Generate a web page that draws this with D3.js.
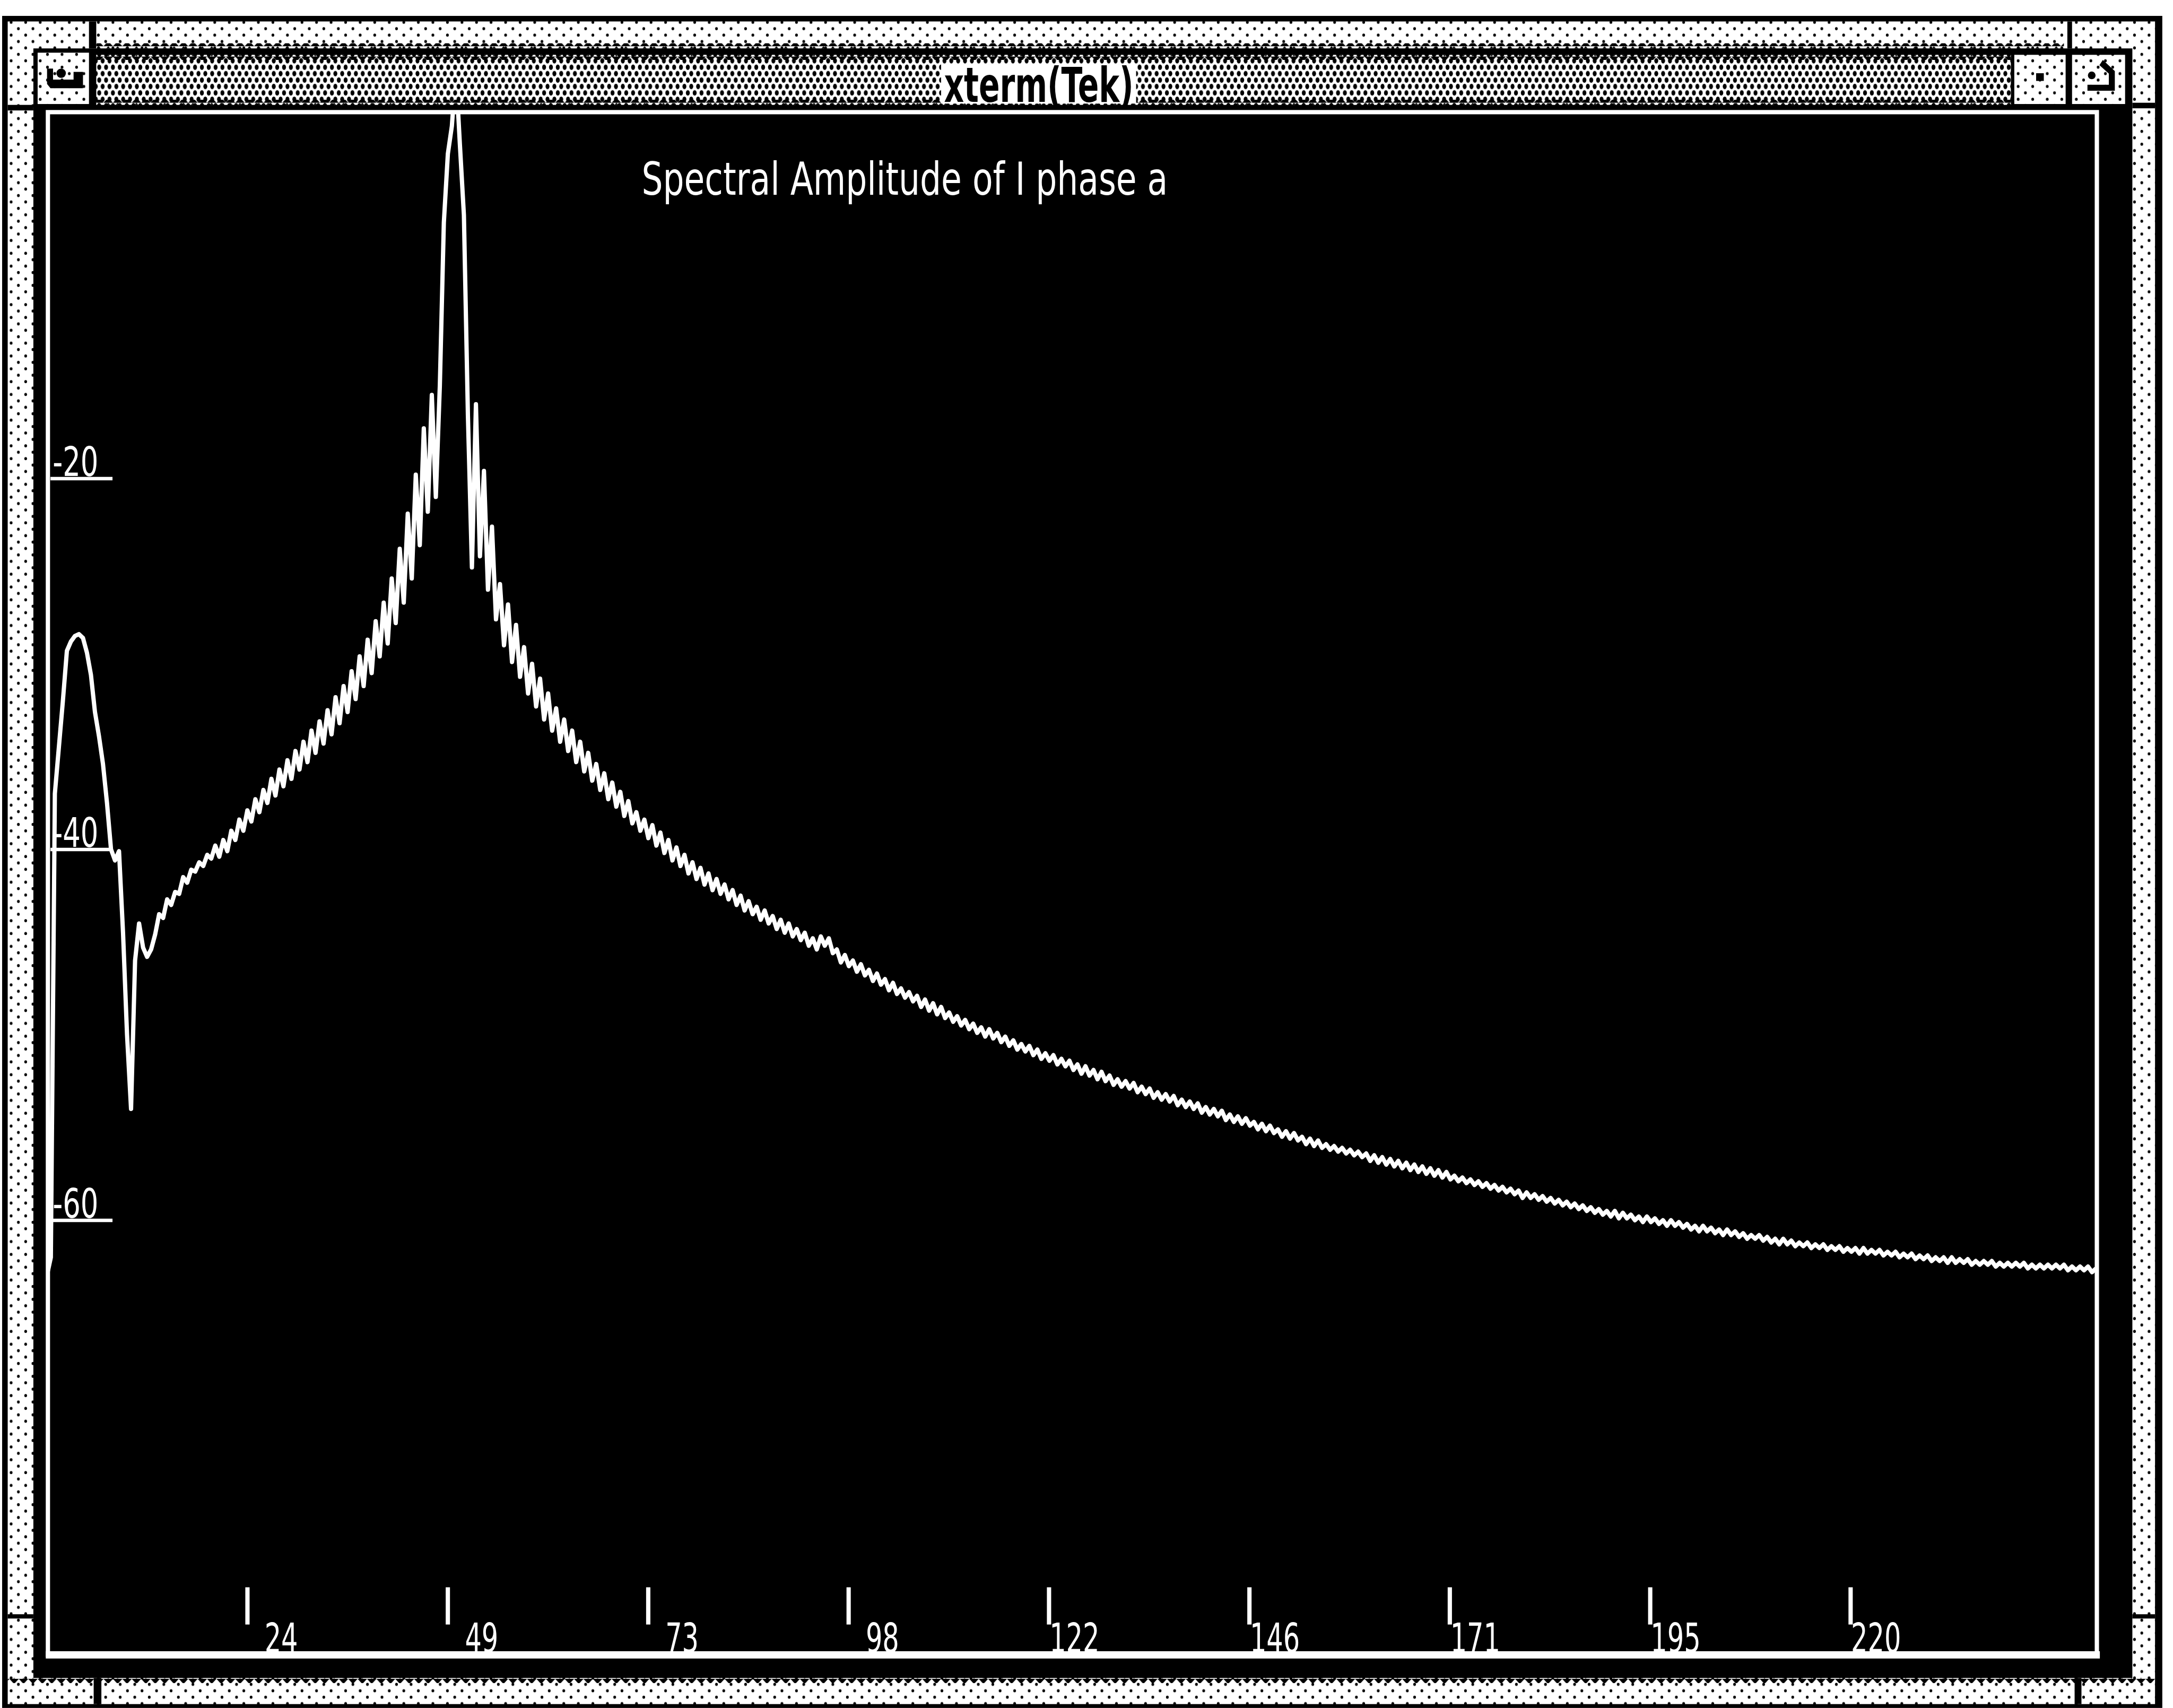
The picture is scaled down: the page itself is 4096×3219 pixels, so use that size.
<!DOCTYPE html>
<html>
<head>
<meta charset="utf-8">
<script src="https://cdn.jsdelivr.net/npm/d3@7"></script>
<style>
  html, body { margin: 0; padding: 0; background: #fff; overflow: hidden; }
  svg { display: block; }
</style>
</head>
<body>
<svg id="chart" width="4096" height="3219" viewBox="0 0 5080 3992"></svg>
<script>
// ---------------- data ----------------
const windowTitle = "xterm(Tek)";
const chartTitle = "Spectral Amplitude of I phase a";

const xTickValues = [24.4, 48.8, 73.2, 97.6, 122, 146.4, 170.8, 195.2, 219.6];
const xTickLabels = ["24", "49", "73", "98", "122", "146", "171", "195", "220"];
const yTickValues = [-20, -40, -60];
const yTickLabels = ["-20", "-40", "-60"];

// FFT bin spacing (Hz); amplitudes below are in dB, one value per bin
const binWidthHz = 250 / 512;

// bins 0-41: DC region, low-frequency lobe and the notch near 10 Hz
const lowBandAmp = [
  -63.0, -62.0, -37.0, -34.5, -32.0, -29.3, -28.8, -28.5, -28.4, -28.6,
  -29.4, -30.6, -32.6, -33.9, -35.4, -37.5, -40.0, -40.6, -40.1, -44.5,
  -50.0, -54.0, -46.0, -44.0, -45.3, -45.8, -45.4, -44.6, -43.5, -43.7,
  -42.7, -43.0, -42.3, -42.4, -41.5, -41.8, -41.1, -41.2, -40.7, -40.9,
  -40.3, -40.5
];

// bins 42-100: rising skirt up to the fundamental
const lowerSkirtAmp = [
  -39.8, -40.4, -39.5, -40.1, -39.0, -39.5, -38.4, -39.0, -37.9, -38.5,
  -37.3, -38.0, -36.8, -37.5, -36.2, -37.1, -35.7, -36.6, -35.2, -36.2,
  -34.7, -35.7, -34.2, -35.3, -33.6, -34.8, -33.1, -34.3, -32.5, -33.8,
  -31.8, -33.2, -31.2, -32.6, -30.4, -31.9, -29.6, -31.2, -28.7, -30.5,
  -27.7, -29.6, -26.7, -28.9, -25.4, -27.8, -23.8, -26.7, -21.9, -25.4,
  -19.8, -23.6, -17.3, -21.8, -15.5, -21.0, -15.0, -6.2, -2.5
];

// bins 101-200: fundamental peak and falling skirt
const upperSkirtAmp = [
  -1.0, 2.0, -2.0, -5.8, -16.6, -24.8, -16.0, -24.2, -19.6, -26.0,
  -22.6, -27.6, -25.7, -29.0, -26.8, -29.9, -27.9, -30.7, -29.1, -31.6,
  -30.0, -32.3, -30.8, -33.0, -31.6, -33.6, -32.4, -34.2, -33.0, -34.7,
  -33.6, -35.3, -34.2, -35.8, -34.8, -36.3, -35.4, -36.8, -35.9, -37.3,
  -36.4, -37.7, -36.9, -38.2, -37.4, -38.6, -38.0, -39.0, -38.4, -39.4,
  -38.7, -39.8, -39.1, -40.2, -39.5, -40.6, -39.9, -40.9, -40.3, -41.3,
  -40.7, -41.6, -41.0, -41.9, -41.3, -42.2, -41.6, -42.4, -41.9, -42.7,
  -42.2, -43.0, -42.5, -43.3, -42.8, -43.5, -43.1, -43.8, -43.3, -44.0,
  -43.6, -44.3, -43.8, -44.5, -44.0, -44.7, -44.3, -44.9, -44.5, -45.2,
  -44.8, -45.4, -44.7, -45.2, -44.8, -45.6, -45.4, -46.1, -45.7, -46.3
];

// bins 201-511: high-frequency tail
const tailAmp = [
  -46.0, -46.6, -46.2, -46.8, -46.5, -47.1, -46.7, -47.3, -47.0, -47.6,
  -47.2, -47.8, -47.5, -48.0, -47.7, -48.2, -47.9, -48.5, -48.1, -48.7,
  -48.3, -48.9, -48.5, -49.1, -48.8, -49.3, -49.0, -49.5, -49.2, -49.7,
  -49.4, -49.9, -49.6, -50.1, -49.7, -50.2, -49.9, -50.4, -50.1, -50.6,
  -50.3, -50.8, -50.5, -50.9, -50.6, -51.1, -50.8, -51.3, -51.0, -51.4,
  -51.1, -51.6, -51.3, -51.7, -51.4, -51.9, -51.6, -52.1, -51.7, -52.2,
  -51.9, -52.4, -52.0, -52.5, -52.2, -52.7, -52.4, -52.8, -52.5, -52.9,
  -52.6, -53.1, -52.8, -53.2, -52.9, -53.4, -53.1, -53.5, -53.2, -53.6,
  -53.3, -53.8, -53.5, -53.9, -53.6, -54.0, -53.7, -54.2, -53.9, -54.3,
  -54.0, -54.4, -54.1, -54.6, -54.3, -54.7, -54.4, -54.8, -54.5, -54.9,
  -54.7, -55.1, -54.8, -55.2, -54.9, -55.3, -55.1, -55.5, -55.2, -55.6,
  -55.3, -55.7, -55.5, -55.9, -55.6, -56.0, -55.7, -56.1, -55.9, -56.2,
  -56.0, -56.3, -56.1, -56.4, -56.2, -56.5, -56.3, -56.6, -56.4, -56.8,
  -56.5, -56.9, -56.6, -57.0, -56.7, -57.1, -56.8, -57.2, -56.9, -57.3,
  -57.0, -57.4, -57.1, -57.5, -57.2, -57.6, -57.3, -57.7, -57.4, -57.8,
  -57.6, -57.9, -57.7, -58.0, -57.8, -58.1, -57.9, -58.2, -58.0, -58.3,
  -58.1, -58.4, -58.2, -58.5, -58.3, -58.6, -58.4, -58.8, -58.5, -58.8,
  -58.6, -58.9, -58.7, -59.0, -58.8, -59.1, -58.9, -59.2, -59.0, -59.3,
  -59.1, -59.4, -59.2, -59.5, -59.3, -59.6, -59.4, -59.7, -59.5, -59.8,
  -59.5, -59.9, -59.6, -59.9, -59.7, -60.0, -59.8, -60.1, -59.8, -60.1,
  -59.9, -60.2, -60.0, -60.3, -60.0, -60.3, -60.1, -60.4, -60.2, -60.5,
  -60.3, -60.6, -60.3, -60.6, -60.4, -60.7, -60.5, -60.8, -60.5, -60.8,
  -60.6, -60.9, -60.7, -61.0, -60.8, -61.0, -60.8, -61.1, -60.9, -61.2,
  -61.0, -61.3, -61.0, -61.3, -61.1, -61.4, -61.2, -61.4, -61.2, -61.5,
  -61.3, -61.5, -61.3, -61.6, -61.4, -61.6, -61.4, -61.7, -61.5, -61.7,
  -61.5, -61.8, -61.5, -61.8, -61.6, -61.8, -61.6, -61.9, -61.7, -61.9,
  -61.7, -62.0, -61.8, -62.0, -61.8, -62.1, -61.9, -62.1, -61.9, -62.2,
  -62.0, -62.2, -62.0, -62.3, -62.0, -62.3, -62.1, -62.3, -62.1, -62.4,
  -62.2, -62.4, -62.2, -62.4, -62.2, -62.5, -62.3, -62.5, -62.3, -62.5,
  -62.3, -62.5, -62.3, -62.6, -62.4, -62.6, -62.4, -62.6, -62.4, -62.6,
  -62.4, -62.6, -62.4, -62.7, -62.5, -62.7, -62.5, -62.7, -62.5, -62.8,
  -62.6
];

// ---------------- layout (reference pixel space, scaled by the viewBox) ----------------
const svg = d3.select("#chart");
const VW = 5080, VH = 3992;
const FONT = "'Liberation Sans Narrow', 'DejaVu Sans Condensed', 'Liberation Sans', sans-serif";

const x = d3.scaleLinear().domain([0, 250]).range([109.5, 4909.5]);
const y = d3.scaleLinear().domain([0, -80]).range([251, 251 + 80 * 43.35]);

const plotBox = { left: 112, top: 262, right: 4902, bottom: 3868 };

// ---------------- window decoration ----------------
const defs = svg.append("defs");

function dotPattern(id, w, h, dots) {
  const p = defs.append("pattern").attr("id", id)
    .attr("patternUnits", "userSpaceOnUse").attr("width", w).attr("height", h);
  p.append("rect").attr("width", w).attr("height", h).attr("fill", "#fff");
  dots.forEach(d => p.append("ellipse").attr("cx", d[0]).attr("cy", d[1])
    .attr("rx", d[2]).attr("ry", d[3]).attr("fill", "#000"));
}
// dense halftone for the title bar, sparse one for the resize frame
dotPattern("titleDots", 16, 30, [[8, 7, 4.6, 6.3], [0, 22, 4.6, 6.3], [16, 22, 4.6, 6.3]]);
dotPattern("frameDots", 34, 30, [[9, 7, 3.2, 3.6], [26, 22, 3.2, 3.6]]);

function teethPattern(id, down) {
  const p = defs.append("pattern").attr("id", id)
    .attr("patternUnits", "userSpaceOnUse").attr("width", 22).attr("height", 12);
  p.append("path").attr("d", down ? "M0,0 L22,0 L11,12 Z" : "M0,12 L22,12 L11,0 Z").attr("fill", "#000");
}
teethPattern("teethDown", true);
teethPattern("teethUp", false);

svg.append("rect").attr("width", VW).attr("height", VH).attr("fill", "#fff");

const deco = svg.append("g").attr("class", "decoration");
// outer border and frame strips
deco.append("rect").attr("x", 5).attr("y", 37).attr("width", 5050).attr("height", 3955).attr("fill", "#000");
deco.append("rect").attr("x", 18).attr("y", 50).attr("width", 5020).attr("height", 3933).attr("fill", "url(#frameDots)");
deco.append("rect").attr("x", 78).attr("y", 113).attr("width", 4907).attr("height", 3809).attr("fill", "#000");

// corner separators in the frame
[[208, 50, 17, 63], [4833, 50, 11, 63], [18, 245, 60, 13], [18, 3773, 60, 10],
 [4985, 240, 53, 13], [4985, 3773, 53, 10], [219, 3922, 18, 61], [4850, 3922, 16, 61]]
  .forEach(r => deco.append("rect").attr("x", r[0]).attr("y", r[1]).attr("width", r[2]).attr("height", r[3]).attr("fill", "#000"));

// halftone teeth along the strip edges
deco.append("rect").attr("x", 18).attr("y", 3922).attr("width", 5020).attr("height", 12).attr("fill", "url(#teethDown)");
deco.append("rect").attr("x", 225).attr("y", 101).attr("width", 4600).attr("height", 12).attr("fill", "url(#teethUp)");

// title bar
deco.append("rect").attr("x", 225).attr("y", 128).attr("width", 4476).attr("height", 117).attr("fill", "url(#titleDots)");
deco.append("rect").attr("x", 225).attr("y", 128).attr("width", 4476).attr("height", 12).attr("fill", "url(#teethDown)");
deco.append("rect").attr("x", 225).attr("y", 233).attr("width", 4476).attr("height", 12).attr("fill", "url(#teethUp)");

// menu button (left) and the two buttons on the right
const buttons = [[88, 123, 120, 120], [4709, 128, 120, 115], [4844, 128, 124, 115]];
buttons.forEach(b => deco.append("rect").attr("x", b[0]).attr("y", b[1]).attr("width", b[2]).attr("height", b[3]).attr("fill", "url(#frameDots)"));
deco.append("path").attr("d", "M110,160 L124,160 L124,186 L172,186 L172,168 L194,168 L194,206 L118,206 L110,196 Z").attr("fill", "#000");
deco.append("circle").attr("cx", 143).attr("cy", 171).attr("r", 11).attr("fill", "#000");
deco.append("rect").attr("x", 4760).attr("y", 171).attr("width", 18).attr("height", 18).attr("fill", "#000");
deco.append("path").attr("d", "M4916,140 L4944,166 L4944,212 L4880,212 L4880,198 L4930,198 L4930,172 L4908,152 Z").attr("fill", "#000");
deco.append("circle").attr("cx", 4890).attr("cy", 176).attr("r", 9).attr("fill", "#000");

deco.append("rect").attr("x", 2200).attr("y", 150).attr("width", 456).attr("height", 92).attr("fill", "#fff");
deco.append("text").attr("x", 2207).attr("y", 238)
  .attr("font-family", FONT).attr("font-weight", "bold").attr("font-size", 112)
  .attr("textLength", 443).attr("lengthAdjust", "spacingAndGlyphs")
  .attr("fill", "#000").text(windowTitle);

// ---------------- plot ----------------
const chart = svg.append("g").attr("class", "plot");

defs.append("clipPath").attr("id", "plotClip").append("rect")
  .attr("x", plotBox.left).attr("y", plotBox.top)
  .attr("width", plotBox.right - plotBox.left).attr("height", plotBox.bottom - plotBox.top);

// x axis: short ticks above right-aligned labels
const xAxis = d3.axisBottom(x).tickValues(xTickValues)
  .tickFormat((d, i) => xTickLabels[i]).tickSize(0).tickPadding(0);
const gx = chart.append("g").attr("transform", "translate(0,3862)").call(xAxis);
gx.select(".domain").remove();
gx.selectAll(".tick").append("line")
  .attr("x1", 0).attr("x2", 0).attr("y1", -152).attr("y2", -65)
  .attr("stroke", "#fff").attr("stroke-width", 10);
gx.selectAll(".tick text")
  .attr("fill", "#fff").attr("y", 0).attr("dy", 0)
  .attr("x", 118).attr("text-anchor", "end")
  .attr("font-family", FONT).attr("font-size", 96)
  .attr("textLength", (d, i) => 39 * xTickLabels[i].length).attr("lengthAdjust", "spacingAndGlyphs");

// y axis: underline ticks with labels sitting on them
const yAxis = d3.axisRight(y).tickValues(yTickValues)
  .tickFormat((d, i) => yTickLabels[i]).tickSize(145).tickPadding(0);
const gy = chart.append("g").attr("transform", "translate(118,0)").call(yAxis);
gy.select(".domain").remove();
gy.selectAll(".tick line").attr("stroke", "#fff").attr("stroke-width", 8);
gy.selectAll(".tick text")
  .attr("fill", "#fff").attr("x", 5).attr("dy", -6).attr("y", 0)
  .attr("text-anchor", "start")
  .attr("font-family", FONT).attr("font-size", 96)
  .attr("textLength", 107).attr("lengthAdjust", "spacingAndGlyphs");

// spectrum trace: one point per FFT bin
const bands = [[0, lowBandAmp], [42, lowerSkirtAmp], [101, upperSkirtAmp], [201, tailAmp]];
const spectrum = [];
bands.forEach(([start, amps]) => amps.forEach((a, i) => spectrum.push({ f: (start + i) * binWidthHz, a })));

const line = d3.line().x(d => x(d.f)).y(d => y(d.a));
chart.append("path").datum(spectrum)
  .attr("clip-path", "url(#plotClip)")
  .attr("d", line).attr("fill", "none")
  .attr("stroke", "#fff").attr("stroke-width", 10).attr("stroke-linejoin", "round");

// frame around the plot
chart.append("rect").attr("x", plotBox.left).attr("y", plotBox.top)
  .attr("width", plotBox.right - plotBox.left).attr("height", plotBox.bottom - plotBox.top)
  .attr("fill", "none").attr("stroke", "#fff").attr("stroke-width", 10);
chart.append("line").attr("x1", 107).attr("x2", 4909).attr("y1", 3868).attr("y2", 3868)
  .attr("stroke", "#fff").attr("stroke-width", 17);

// chart title
chart.append("text").attr("x", 1500).attr("y", 455)
  .attr("font-family", FONT).attr("font-size", 106).attr("fill", "#fff")
  .attr("textLength", 1230).attr("lengthAdjust", "spacingAndGlyphs")
  .text(chartTitle);
</script>
</body>
</html>
